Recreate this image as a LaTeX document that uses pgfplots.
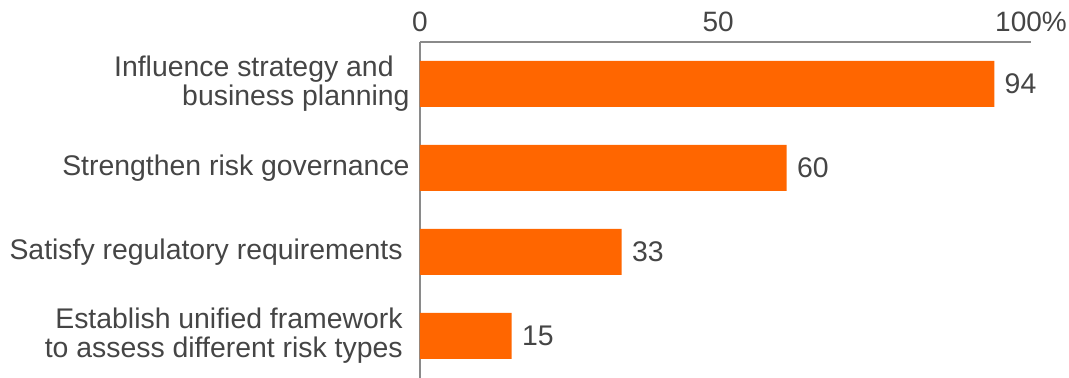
\documentclass[border=0pt]{standalone}
\usepackage{pgfplots}
\pgfplotsset{compat=1.18}
\usepackage{fontspec}
\setmainfont{Liberation Sans}
\usetikzlibrary{calc}
\definecolor{barorange}{HTML}{FF6600}
\definecolor{txtgray}{HTML}{454545}
\definecolor{axgray}{HTML}{8A8A8A}
\begin{document}
\begin{tikzpicture}
\begin{axis}[
  name=ax,
  scale only axis,
  width=305.5pt, height=168pt,
  xmin=0, xmax=100,
  ymin=-0.5, ymax=3.5,
  y dir=reverse,
  xbar, bar width=23pt,
  axis x line*=top,
  axis y line*=left,
  axis line style={draw=axgray, line width=0.9pt},
  major tick length=0pt,
  xtick={0,48.8,100},
  xticklabels={0,50,100\%},
  ytick={0,1,2,3},
  yticklabels={{Influence strategy and\hspace*{8pt}\\business planning},
               {Strengthen risk governance},
               {Satisfy regulatory requirements\hspace*{3.5pt}},
               {Establish unified framework\hspace*{3.5pt}\\to assess different risk types\hspace*{3.5pt}}},
  yticklabel style={align=right, font=\fontsize{14.2}{14.6}\selectfont, text=txtgray, inner sep=0pt},
  xticklabel style={font=\fontsize{14}{14}\selectfont, text=txtgray, inner sep=0pt},
  /pgf/number format/assume math mode=true,
  yticklabel shift=5pt,
  xticklabel shift=5pt,
  nodes near coords,
  nodes near coords style={font=\fontsize{14.2}{14.2}\selectfont, text=txtgray, anchor=west, inner sep=0pt, xshift=5pt},
  point meta=explicit symbolic,
  clip=false,
]
\addplot[draw=none, fill=barorange] coordinates {
  (94,0) [94]
  (60,1) [60]
  (33,2) [33]
  (15,3) [15]
};
\end{axis}
\pgfresetboundingbox
\path[use as bounding box] ($(ax.south west)+(-210pt,0pt)$) rectangle ($(ax.north east)+(19pt,21pt)$);
\end{tikzpicture}
\end{document}
